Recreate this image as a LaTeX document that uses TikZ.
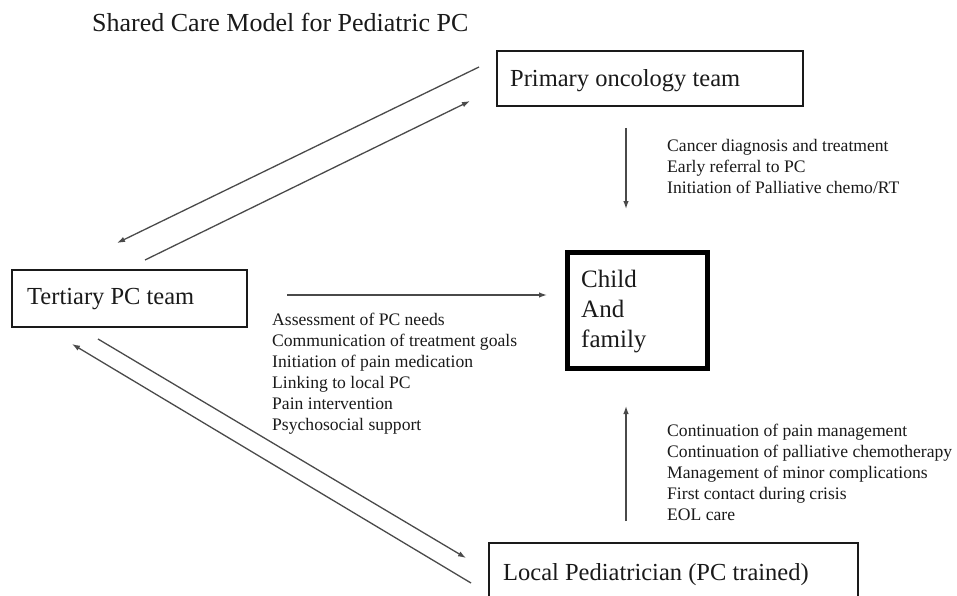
\documentclass[tikz,border=0pt]{standalone}
\usepackage{fontspec}
\setmainfont{Liberation Serif}
\usetikzlibrary{arrows.meta}
\definecolor{inkc}{HTML}{1A1A1A}
\definecolor{arrowc}{HTML}{4A4A4A}
\tikzset{
  box/.style={draw=inkc, line width=2.6pt, inner sep=0pt, fill=white},
  thickbox/.style={draw=black, line width=5pt, inner sep=0pt, fill=white},
  boxlabel/.style={inner sep=0pt, text=inkc, font=\fontsize{24.5}{29}\selectfont},
  titlelabel/.style={inner sep=0pt, text=inkc, font=\fontsize{26}{30}\selectfont},
  listlabel/.style={inner sep=0pt, text=inkc, align=left, anchor=north west, font=\fontsize{17.6}{21}\selectfont},
  conn/.style={draw=arrowc, line width=1.3pt, -{Latex[length=8pt,width=5.5pt]}},
}
\begin{document}
\begin{tikzpicture}[x=1pt,y=-1pt]
\useasboundingbox (0,0) rectangle (957,596);
\clip (0,0) rectangle (957,596);
\fill[white] (0,0) rectangle (957,596);

\node[titlelabel, anchor=base west] (title) at (92,32) {Shared Care Model for Pediatric PC};

% boxes
\node[box, minimum width=306pt, minimum height=55pt] (primary) at (650,78.5) {};
\node[boxlabel, anchor=base west] (primarylabel) at (510,87) {Primary oncology team};

\node[box, minimum width=235pt, minimum height=57pt] (tertiary) at (129.5,298.5) {};
\node[boxlabel, anchor=base west] (tertiarylabel) at (27,304) {Tertiary PC team};

\node[thickbox, minimum width=140pt, minimum height=116pt] (child) at (637,310) {};
\node[inner sep=0pt, text=inkc, align=left, anchor=north west, font=\fontsize{25}{30}\selectfont] (childlabel) at (581,270) {Child\\And\\family};

\node[box, minimum width=369pt, minimum height=90pt] (local) at (673.5,588) {};
\node[boxlabel, anchor=base west] (locallabel) at (503,580) {Local Pediatrician (PC trained)};

% lists
\node[listlabel] (primarylist) at (667,139.5) {Cancer diagnosis and treatment\\Early referral to PC\\Initiation of Palliative chemo/RT};
\node[listlabel] (tertiarylist) at (272,312.5) {Assessment of PC needs\\Communication of treatment goals\\Initiation of pain medication\\Linking to local PC\\Pain intervention\\Psychosocial support};
\node[listlabel] (locallist) at (667,423.5) {Continuation of pain management\\Continuation of palliative chemotherapy\\Management of minor complications\\First contact during crisis\\EOL care};

% connector end points
\coordinate (p2ta) at (479,67);
\coordinate (p2tb) at (117,243);
\coordinate (t2pa) at (145,260);
\coordinate (t2pb) at (470,101);
\coordinate (p2ca) at (626,128);
\coordinate (p2cb) at (626,209);
\coordinate (t2ca) at (287,295);
\coordinate (t2cb) at (547,295);
\coordinate (l2ca) at (626,521);
\coordinate (l2cb) at (626,406);
\coordinate (t2la) at (98,339);
\coordinate (t2lb) at (466,558);
\coordinate (l2ta) at (471,583);
\coordinate (l2tb) at (72,344);

\draw[conn] (p2ta) -- (p2tb);
\draw[conn] (t2pa) -- (t2pb);
\draw[conn] (p2ca) -- (p2cb);
\draw[conn] (t2ca) -- (t2cb);
\draw[conn] (l2ca) -- (l2cb);
\draw[conn] (t2la) -- (t2lb);
\draw[conn] (l2ta) -- (l2tb);
\end{tikzpicture}
\end{document}
